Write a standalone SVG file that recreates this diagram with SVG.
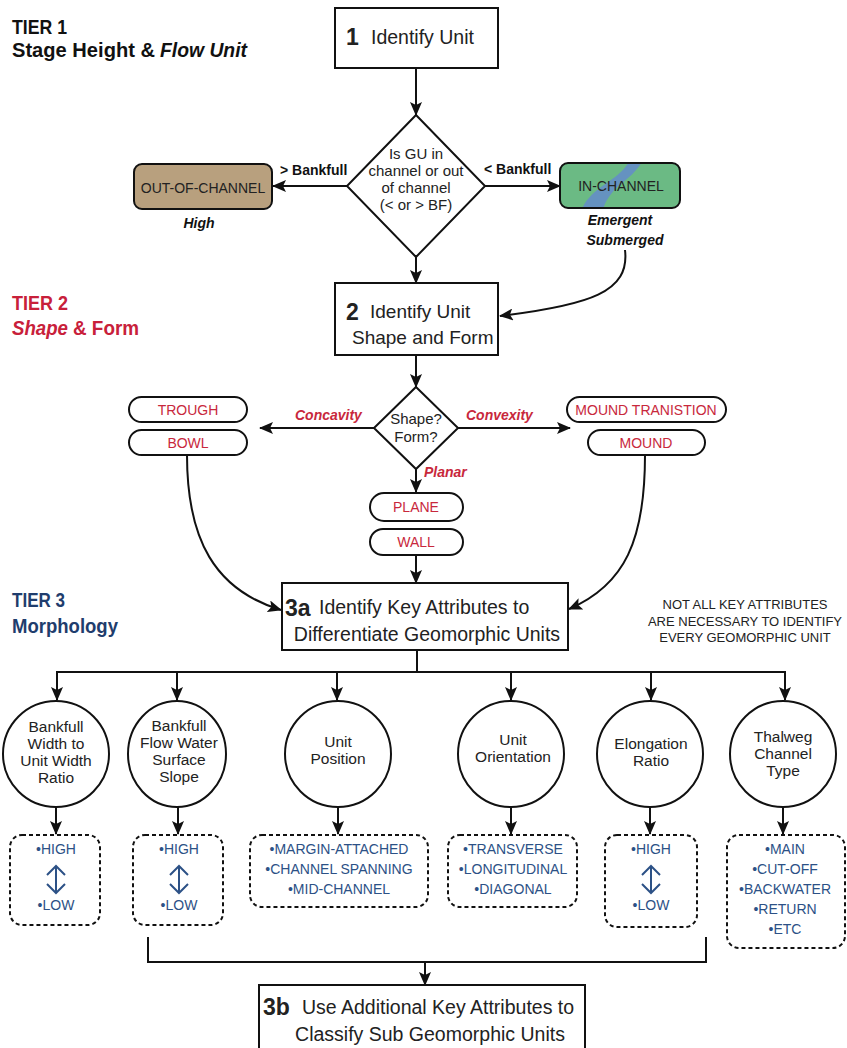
<svg xmlns="http://www.w3.org/2000/svg" width="847" height="1048" viewBox="0 0 847 1048">
<style>
.tier{font-family:"Liberation Sans",Arial,sans-serif;font-weight:bold;font-size:20.5px}
.t{font-family:"Liberation Sans",Arial,sans-serif;fill:#222}
.box{fill:#fff;stroke:#111;stroke-width:2}
.pill{fill:#fff;stroke:#111;stroke-width:2}
.pt{font-family:"Liberation Sans",Arial,sans-serif;font-size:14px;fill:#c8283c;text-anchor:middle}
.lab{font-family:"Liberation Sans",Arial,sans-serif;font-size:14px;font-weight:bold;fill:#111}
.rl{font-family:"Liberation Sans",Arial,sans-serif;font-size:14px;font-weight:bold;font-style:italic;fill:#c8283c}
.circ{fill:#fff;stroke:#111;stroke-width:2}
.ct{font-family:"Liberation Sans",Arial,sans-serif;font-size:15.5px;fill:#222;text-anchor:middle}
.dash{fill:#fff;stroke:#111;stroke-width:2;stroke-dasharray:4 3}
.bt{font-family:"Liberation Sans",Arial,sans-serif;font-size:14px;fill:#2c5186;text-anchor:middle}
.dt{font-family:"Liberation Sans",Arial,sans-serif;font-size:15px;fill:#222;text-anchor:middle}
.conn{fill:none;stroke:#111;stroke-width:2}
.dbl{fill:none;stroke:#2c5186;stroke-width:2}
</style>
<defs>
<marker id="ah" markerUnits="userSpaceOnUse" markerWidth="14" markerHeight="12" refX="13" refY="6" orient="auto">
<path d="M0,0 L14,6 L0,12 L3,6 z" fill="#111"/>
</marker>
<clipPath id="inclip"><rect x="560" y="163" width="120" height="45" rx="8"/></clipPath>
</defs>

<g id="tier1-title">
<text class="tier" x="12" y="34" fill="#111" textLength="55" lengthAdjust="spacingAndGlyphs">TIER 1</text>
<text class="tier" x="12" y="57" fill="#111" textLength="143" lengthAdjust="spacingAndGlyphs">Stage Height &amp;</text>
<text class="tier" x="160" y="57" fill="#111" font-style="italic" textLength="87" lengthAdjust="spacingAndGlyphs">Flow Unit</text>
</g>
<g id="tier2-title">
<text class="tier" x="12" y="310" fill="#c8203a" textLength="56" lengthAdjust="spacingAndGlyphs">TIER 2</text>
<text class="tier" x="12" y="335" fill="#c8203a" font-style="italic" textLength="56" lengthAdjust="spacingAndGlyphs">Shape</text>
<text class="tier" x="73" y="335" fill="#c8203a" textLength="66" lengthAdjust="spacingAndGlyphs">&amp; Form</text>
</g>
<g id="tier3-title">
<text class="tier" x="12" y="607" fill="#1f3d6d" textLength="53" lengthAdjust="spacingAndGlyphs">TIER 3</text>
<text class="tier" x="12" y="633" fill="#1f3d6d" textLength="106" lengthAdjust="spacingAndGlyphs">Morphology</text>
</g>

<g id="connectors">
<line class="conn" x1="416" y1="68" x2="416" y2="115" marker-end="url(#ah)"/>
<line class="conn" x1="347" y1="186" x2="273" y2="186" marker-end="url(#ah)"/>
<line class="conn" x1="485" y1="186" x2="560" y2="186" marker-end="url(#ah)"/>
<line class="conn" x1="416" y1="257" x2="416" y2="283" marker-end="url(#ah)"/>
<path class="conn" d="M625,250 C630,292 590,305 500,316" marker-end="url(#ah)"/>
<line class="conn" x1="416" y1="355" x2="416" y2="387" marker-end="url(#ah)"/>
<line class="conn" x1="374" y1="428" x2="260" y2="428" marker-end="url(#ah)"/>
<line class="conn" x1="458" y1="428" x2="570" y2="428" marker-end="url(#ah)"/>
<line class="conn" x1="416" y1="469" x2="416" y2="492" marker-end="url(#ah)"/>
<line class="conn" x1="416" y1="555" x2="416" y2="583" marker-end="url(#ah)"/>
<path class="conn" d="M187,455 C187,540 215,590 281,610" marker-end="url(#ah)"/>
<path class="conn" d="M645,455 C645,540 625,585 569,609" marker-end="url(#ah)"/>
<line class="conn" x1="417" y1="650" x2="417" y2="672"/>
<line class="conn" x1="56" y1="672" x2="786" y2="672"/>
<line class="conn" x1="57" y1="671" x2="57" y2="700" marker-end="url(#ah)"/>
<line class="conn" x1="177" y1="671" x2="177" y2="700" marker-end="url(#ah)"/>
<line class="conn" x1="337" y1="671" x2="337" y2="700" marker-end="url(#ah)"/>
<line class="conn" x1="511" y1="671" x2="511" y2="700" marker-end="url(#ah)"/>
<line class="conn" x1="651" y1="671" x2="651" y2="700" marker-end="url(#ah)"/>
<line class="conn" x1="785" y1="671" x2="785" y2="700" marker-end="url(#ah)"/>
<line class="conn" x1="56" y1="807" x2="56" y2="834" marker-end="url(#ah)"/>
<line class="conn" x1="178" y1="807" x2="178" y2="834" marker-end="url(#ah)"/>
<line class="conn" x1="338" y1="807" x2="338" y2="834" marker-end="url(#ah)"/>
<line class="conn" x1="511" y1="807" x2="511" y2="834" marker-end="url(#ah)"/>
<line class="conn" x1="650" y1="807" x2="650" y2="834" marker-end="url(#ah)"/>
<line class="conn" x1="783" y1="807" x2="783" y2="834" marker-end="url(#ah)"/>
<path class="conn" d="M148,937 L148,962 L706,962 L706,937"/>
<line class="conn" x1="425" y1="962" x2="425" y2="985" marker-end="url(#ah)"/>
</g>

<g id="n1">
<rect class="box" x="335" y="8" width="163" height="60"/>
<text class="t" x="346" y="45" font-size="23" font-weight="bold" fill="#111">1</text>
<text class="t" x="371" y="44" font-size="19.5">Identify Unit</text>
</g>
<g id="d1">
<polygon points="416,115 485,186 416,257 347,186" fill="#fff" stroke="#111" stroke-width="2"/>
<text class="dt" x="416" y="159">Is GU in</text>
<text class="dt" x="416" y="176">channel or out</text>
<text class="dt" x="416" y="193">of channel</text>
<text class="dt" x="416" y="210">(&lt; or &gt; BF)</text>
</g>
<g id="lbl-bankfull">
<text class="lab" x="280" y="175">&gt; Bankfull</text>
<text class="lab" x="484" y="174">&lt; Bankfull</text>
</g>
<g id="out-channel">
<rect x="134" y="164" width="138" height="45" rx="8" fill="#b8a07e" stroke="#111" stroke-width="2"/>
<text class="t" x="203" y="193" font-size="14" text-anchor="middle">OUT-OF-CHANNEL</text>
<text class="lab" x="199" y="228" font-style="italic" text-anchor="middle">High</text>
</g>
<g id="in-channel">
<rect x="560" y="163" width="120" height="45" rx="8" fill="#6bba84"/>
<path clip-path="url(#inclip)" d="M629,162 L642,162 C630,182 612,184 603,209 L582,209 C592,186 617,182 629,162 Z" fill="#6592c0"/>
<rect x="560" y="163" width="120" height="45" rx="8" fill="none" stroke="#111" stroke-width="2"/>
<text class="t" x="621" y="191" font-size="14" text-anchor="middle">IN-CHANNEL</text>
<text class="lab" x="620" y="225" font-style="italic" text-anchor="middle">Emergent</text>
<text class="lab" x="625" y="245" font-style="italic" text-anchor="middle">Submerged</text>
</g>
<g id="n2">
<rect class="box" x="335" y="283" width="163" height="72"/>
<text class="t" x="346" y="320" font-size="23" font-weight="bold" fill="#c8203a">2</text>
<text class="t" x="370" y="318" font-size="19">Identify Unit</text>
<text class="t" x="352" y="344" font-size="19">Shape and Form</text>
</g>
<g id="d2">
<polygon points="416,387 458,428 416,469 374,428" fill="#fff" stroke="#111" stroke-width="2"/>
<text class="dt" x="416" y="424">Shape?</text>
<text class="dt" x="416" y="442">Form?</text>
</g>
<g id="lbl-shape">
<text class="rl" x="295" y="420">Concavity</text>
<text class="rl" x="466" y="420">Convexity</text>
<text class="rl" x="424" y="477">Planar</text>
</g>
<g id="trough"><rect class="pill" x="129" y="397" width="118" height="25" rx="12.5"/><text class="pt" x="188" y="415">TROUGH</text></g>
<g id="bowl"><rect class="pill" x="129" y="430" width="118" height="25" rx="12.5"/><text class="pt" x="188" y="448">BOWL</text></g>
<g id="mound-transition"><rect class="pill" x="567" y="397" width="159" height="25" rx="12.5"/><text class="pt" x="646" y="415">MOUND TRANISTION</text></g>
<g id="mound"><rect class="pill" x="588" y="430" width="117" height="25" rx="12.5"/><text class="pt" x="646" y="448">MOUND</text></g>
<g id="plane"><rect class="pill" x="370" y="493" width="93" height="28" rx="14"/><text class="pt" x="416" y="512">PLANE</text></g>
<g id="wall"><rect class="pill" x="370" y="529" width="93" height="26" rx="13"/><text class="pt" x="416" y="547">WALL</text></g>

<g id="n3a">
<rect class="box" x="282" y="583" width="286" height="67"/>
<text class="t" x="285" y="616" font-size="23" font-weight="bold" fill="#1f3d6d">3a</text>
<text class="t" x="319" y="614" font-size="19.5">Identify Key Attributes to</text>
<text class="t" x="427" y="641" font-size="19.5" text-anchor="middle">Differentiate Geomorphic Units</text>
</g>
<g id="note">
<text class="t" x="745" y="609" font-size="13" fill="#666" text-anchor="middle">NOT ALL KEY ATTRIBUTES</text>
<text class="t" x="745" y="626" font-size="13" fill="#666" text-anchor="middle">ARE NECESSARY TO IDENTIFY</text>
<text class="t" x="745" y="642" font-size="13" fill="#666" text-anchor="middle">EVERY GEOMORPHIC UNIT</text>
</g>

<g id="c1">
<circle class="circ" cx="56" cy="754" r="53"/>
<text class="ct" x="56" y="732">Bankfull</text>
<text class="ct" x="56" y="749">Width to</text>
<text class="ct" x="56" y="766">Unit Width</text>
<text class="ct" x="56" y="783">Ratio</text>
</g>
<g id="c2">
<ellipse class="circ" cx="177" cy="754" rx="49" ry="53"/>
<text class="ct" x="179" y="731">Bankfull</text>
<text class="ct" x="179" y="748">Flow Water</text>
<text class="ct" x="179" y="765">Surface</text>
<text class="ct" x="179" y="782">Slope</text>
</g>
<g id="c3">
<circle class="circ" cx="338" cy="754" r="53"/>
<text class="ct" x="338" y="747">Unit</text>
<text class="ct" x="338" y="764">Position</text>
</g>
<g id="c4">
<circle class="circ" cx="511" cy="754" r="53"/>
<text class="ct" x="513" y="745">Unit</text>
<text class="ct" x="513" y="762">Orientation</text>
</g>
<g id="c5">
<circle class="circ" cx="650" cy="754" r="53"/>
<text class="ct" x="651" y="749">Elongation</text>
<text class="ct" x="651" y="766">Ratio</text>
</g>
<g id="c6">
<circle class="circ" cx="783" cy="754" r="53"/>
<text class="ct" x="783" y="742">Thalweg</text>
<text class="ct" x="783" y="759">Channel</text>
<text class="ct" x="783" y="776">Type</text>
</g>

<g id="b1">
<rect class="dash" x="10" y="835" width="90" height="90" rx="12"/>
<text class="bt" x="56" y="854">•HIGH</text>
<path class="dbl" d="M56,866 L56,893 M47,875 L56,866 L65,875 M47,884 L56,893 L65,884"/>
<text class="bt" x="56" y="910">•LOW</text>
</g>
<g id="b2">
<rect class="dash" x="133" y="835" width="90" height="90" rx="12"/>
<text class="bt" x="179" y="854">•HIGH</text>
<path class="dbl" d="M179,866 L179,893 M170,875 L179,866 L188,875 M170,884 L179,893 L188,884"/>
<text class="bt" x="179" y="910">•LOW</text>
</g>
<g id="b3">
<rect class="dash" x="250" y="835" width="178" height="72" rx="12"/>
<text class="bt" x="339" y="854">•MARGIN-ATTACHED</text>
<text class="bt" x="339" y="874">•CHANNEL SPANNING</text>
<text class="bt" x="339" y="894">•MID-CHANNEL</text>
</g>
<g id="b4">
<rect class="dash" x="448" y="835" width="129" height="72" rx="12"/>
<text class="bt" x="513" y="854">•TRANSVERSE</text>
<text class="bt" x="513" y="874">•LONGITUDINAL</text>
<text class="bt" x="513" y="894">•DIAGONAL</text>
</g>
<g id="b5">
<rect class="dash" x="605" y="835" width="92" height="92" rx="12"/>
<text class="bt" x="651" y="854">•HIGH</text>
<path class="dbl" d="M651,866 L651,893 M642,875 L651,866 L660,875 M642,884 L651,893 L660,884"/>
<text class="bt" x="651" y="910">•LOW</text>
</g>
<g id="b6">
<rect class="dash" x="727" y="835" width="118" height="113" rx="12"/>
<text class="bt" x="785" y="854">•MAIN</text>
<text class="bt" x="785" y="874">•CUT-OFF</text>
<text class="bt" x="785" y="894">•BACKWATER</text>
<text class="bt" x="785" y="914">•RETURN</text>
<text class="bt" x="785" y="934">•ETC</text>
</g>

<g id="n3b">
<rect class="box" x="259" y="985" width="326" height="80"/>
<text class="t" x="263" y="1015" font-size="23" font-weight="bold" fill="#1f3d6d">3b</text>
<text class="t" x="302" y="1014" font-size="19.5">Use Additional Key Attributes to</text>
<text class="t" x="430" y="1041" font-size="19.5" text-anchor="middle">Classify Sub Geomorphic Units</text>
</g>
</svg>
